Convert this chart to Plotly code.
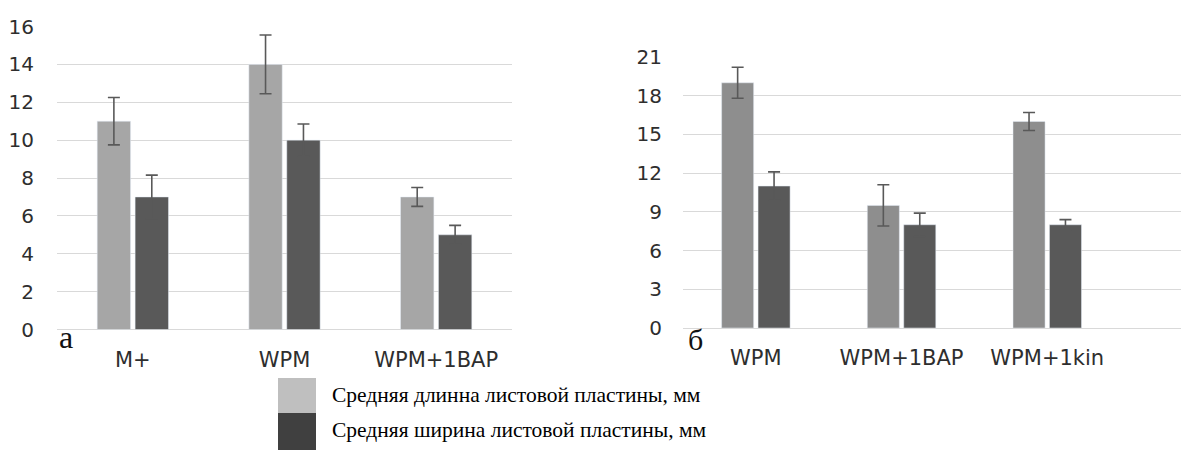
import plotly.graph_objects as go

# Panel a
cats_a = ["M+", "WPM", "WPM+1BAP"]
len_a = [11, 14, 7]
len_a_err = [1.25, 1.55, 0.5]
wid_a = [7, 10, 5]
wid_a_err = [1.15, 0.85, 0.5]

# Panel б
cats_b = ["WPM", "WPM+1BAP", "WPM+1kin"]
len_b = [19, 9.5, 16]
len_b_err = [1.2, 1.6, 0.7]
wid_b = [11, 8, 8]
wid_b_err = [1.1, 0.9, 0.4]

series_names = ["Средняя длинна листовой пластины, мм",
                "Средняя ширина листовой пластины, мм"]
yticks_a = [0, 2, 4, 6, 8, 10, 12, 14, 16]
yticks_b = [0, 3, 6, 9, 12, 15, 18, 21]

W, H = 1189, 450
OFF = 8  # page body margin
ERR = dict(type="data", symmetric=True, color="#595959", thickness=1.6, width=6)

fig = go.Figure()
fig.add_trace(go.Bar(x=cats_a, y=len_a, marker_color="#a6a6a6", name=series_names[0],
                     error_y=dict(array=len_a_err, **ERR), xaxis="x", yaxis="y"))
fig.add_trace(go.Bar(x=cats_a, y=wid_a, marker_color="#595959", name=series_names[1],
                     error_y=dict(array=wid_a_err, **ERR), xaxis="x", yaxis="y"))
fig.add_trace(go.Bar(x=cats_b, y=len_b, marker_color="#8e8e8e", name=series_names[0],
                     error_y=dict(array=len_b_err, **ERR), xaxis="x2", yaxis="y2"))
fig.add_trace(go.Bar(x=cats_b, y=wid_b, marker_color="#595959", name=series_names[1],
                     error_y=dict(array=wid_b_err, **ERR), xaxis="x2", yaxis="y2"))

tickfont = dict(family="DejaVu Sans, Verdana, sans-serif", size=20, color="#2e2e2e")
catfont = dict(family="DejaVu Sans, Verdana, sans-serif", size=21, color="#2e2e2e")


def px_x(p):
    return (p - OFF) / W


def px_y(p):
    return (H - (p - OFF)) / H


x2_start = 683
x2_spacing = 145.7
x2_end_range = -0.5 + (W + OFF - x2_start) / x2_spacing

fig.update_layout(
    width=W, height=H,
    margin=dict(l=0, r=0, t=0, b=0, pad=0, autoexpand=False),
    paper_bgcolor="white", plot_bgcolor="white",
    barmode="group", bargap=0.5, bargroupgap=0.12,
    showlegend=False,
    xaxis=dict(domain=[px_x(57), px_x(512)], range=[-0.5, 2.5], type="category",
               showgrid=False, showline=False, zeroline=False, automargin=False,
               ticks="outside", ticklen=0, tickfont=catfont, ticklabelstandoff=11),
    yaxis=dict(domain=[px_y(329.5), px_y(26.5)], range=[0, 16], tickvals=yticks_a,
               showgrid=True, gridcolor="#d9d9d9", gridwidth=1.2, automargin=False,
               zeroline=True, zerolinecolor="#d9d9d9", zerolinewidth=1.2,
               showline=False, tickfont=tickfont, ticklabelstandoff=22),
    xaxis2=dict(domain=[px_x(x2_start), 1.0], range=[-0.5, x2_end_range], type="category",
                showgrid=False, showline=False, zeroline=False, automargin=False,
                ticks="outside", ticklen=0, tickfont=catfont, ticklabelstandoff=11,
                anchor="y2"),
    yaxis2=dict(domain=[px_y(328), px_y(57)], range=[0, 21], tickvals=yticks_b,
                showgrid=True, gridcolor="#d9d9d9", gridwidth=1.2, automargin=False,
                zeroline=True, zerolinecolor="#d9d9d9", zerolinewidth=1.2,
                showline=False, tickfont=tickfont, ticklabelstandoff=20,
                anchor="x2"),
)

# Panel letters
serif = "Liberation Serif, Times New Roman, serif"
fig.add_annotation(x=px_x(57), y=px_y(337), xref="paper", yref="paper", text="a",
                   showarrow=False, xanchor="left", yanchor="middle",
                   font=dict(family=serif, size=32, color="#111"))
fig.add_annotation(x=px_x(686), y=px_y(339), xref="paper", yref="paper", text="б",
                   showarrow=False, xanchor="left", yanchor="middle",
                   font=dict(family=serif, size=30, color="#111"))

# Legend
legend_cols = ["#bfbfbf", "#404040"]
legend_rows = [(378, 413), (413, 450)]
text_centers = [395, 430]
for name, col, (y0, y1), yc in zip(series_names, legend_cols, legend_rows, text_centers):
    fig.add_shape(type="rect", xref="paper", yref="paper",
                  x0=px_x(278), x1=px_x(316), y0=px_y(y1), y1=px_y(y0),
                  fillcolor=col, line=dict(width=0))
    fig.add_annotation(x=px_x(330), y=px_y(yc), xref="paper", yref="paper",
                       text=name, showarrow=False, xanchor="left", yanchor="middle",
                       font=dict(family=serif, size=21.5, color="#000"))

fig.write_html("out.html")
